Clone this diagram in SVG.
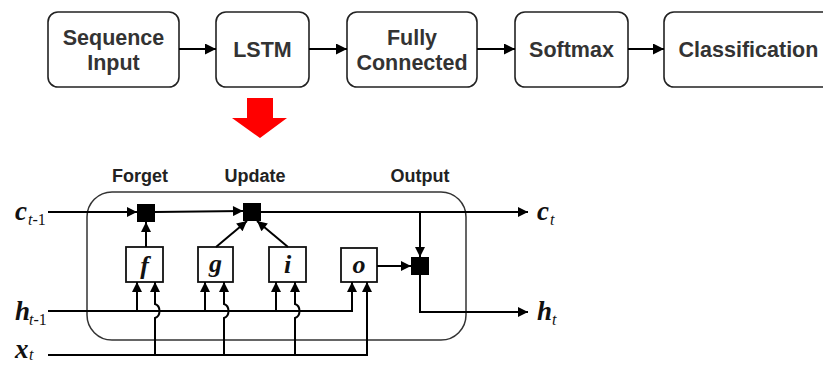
<svg xmlns="http://www.w3.org/2000/svg" width="823" height="365" viewBox="0 0 823 365">
<defs>
<marker id="ah" viewBox="0 0 10 10" refX="10" refY="5" markerWidth="12" markerHeight="11" markerUnits="userSpaceOnUse" orient="auto">
<path d="M0,0 L10,5 L0,10 Z" fill="#000"/>
</marker>
<marker id="ah2" viewBox="0 0 10 10" refX="10" refY="5" markerWidth="11" markerHeight="10" markerUnits="userSpaceOnUse" orient="auto">
<path d="M0,0 L10,5 L0,10 Z" fill="#000"/>
</marker>
</defs>
<style>
.box{fill:#fff;stroke:#222;stroke-width:1.6}
.btxt{font-family:"Liberation Sans",Arial,sans-serif;font-weight:bold;font-size:21.5px;fill:#333;text-anchor:middle}
.lbl{font-family:"Liberation Sans",Arial,sans-serif;font-weight:bold;font-size:18px;fill:#222;text-anchor:middle}
.gate{fill:#fff;stroke:#111;stroke-width:1.8}
.gt{font-family:"Liberation Serif","Times New Roman",serif;font-style:italic;font-weight:bold;font-size:26px;fill:#111;text-anchor:middle}
.sq{fill:#000}
.ln{fill:none;stroke:#000;stroke-width:2}
.var{font-family:"Liberation Serif","Times New Roman",serif;font-style:italic;font-weight:bold;font-size:27px;fill:#111}
.sub{font-family:"Liberation Serif","Times New Roman",serif;font-size:16px;fill:#111}
</style>
<rect width="823" height="365" fill="#fff"/>
<g id="seq"><rect class="box" x="48" y="12" width="131" height="75" rx="10"/><text class="btxt" x="113.5" y="45">Sequence</text><text class="btxt" x="113.5" y="70">Input</text></g>
<g id="lstm"><rect class="box" x="216" y="12" width="93" height="75" rx="10"/><text class="btxt" x="262.5" y="57">LSTM</text></g>
<g id="fc"><rect class="box" x="347" y="12" width="130" height="75" rx="10"/><text class="btxt" x="412" y="45">Fully</text><text class="btxt" x="412" y="70">Connected</text></g>
<g id="softmax"><rect class="box" x="515" y="12" width="113" height="75" rx="10"/><text class="btxt" x="571.5" y="57">Softmax</text></g>
<g id="class"><rect class="box" x="664" y="12" width="180" height="75" rx="10"/><text class="btxt" x="748.5" y="57">Classification</text></g>
<g id="redarrow"><path d="M247,98 H273 V118 H287 L260,138 L232,118 H247 Z" fill="#f00"/></g>
<g id="cell"><rect x="87" y="192" width="379" height="148" rx="25" fill="none" stroke="#333" stroke-width="1.5"/></g>
<g id="labels">
<text class="lbl" x="140" y="182">Forget</text>
<text class="lbl" x="255" y="182">Update</text>
<text class="lbl" x="420" y="182">Output</text>
</g>
<g id="gate-f"><rect class="gate" x="126" y="247" width="37" height="35"/><text class="gt" x="144.5" y="274">f</text></g>
<g id="gate-g"><rect class="gate" x="198" y="247" width="35" height="35"/><text class="gt" x="215.5" y="272">g</text></g>
<g id="gate-i"><rect class="gate" x="269" y="247" width="37" height="35"/><text class="gt" x="287.5" y="273">i</text></g>
<g id="gate-o"><rect class="gate" x="341" y="248" width="36" height="34"/><text class="gt" x="359" y="273">o</text></g>
<g id="mul1"><rect class="sq" x="137" y="204" width="18" height="18"/></g>
<g id="mul2"><rect class="sq" x="243" y="203" width="18" height="18"/></g>
<g id="mul3"><rect class="sq" x="411" y="257" width="18" height="18"/></g>
<g id="vars">
<text class="var" x="15" y="220">c</text><text class="sub" x="28" y="225"><tspan font-style="italic">t</tspan>-1</text>
<text class="var" x="15" y="320">h</text><text class="sub" x="29" y="325"><tspan font-style="italic">t</tspan>-1</text>
<text class="var" x="15" y="358">x</text><text class="sub" x="29" y="360" font-style="italic" font-size="14">t</text>
<text class="var" x="537" y="220">c</text><text class="sub" x="550" y="225" font-style="italic">t</text>
<text class="var" x="537" y="320">h</text><text class="sub" x="552" y="325" font-style="italic">t</text>
</g>
<g id="connectors">
<path class="ln" d="M179,49 H216" marker-end="url(#ah)"/>
<path class="ln" d="M309,49 H347" marker-end="url(#ah)"/>
<path class="ln" d="M477,49 H515" marker-end="url(#ah)"/>
<path class="ln" d="M628,49 H664" marker-end="url(#ah)"/>
<path class="ln" d="M48,212 H137" marker-end="url(#ah2)"/>
<path class="ln" d="M155,212 L243,211" marker-end="url(#ah2)"/>
<path class="ln" d="M261,212 H528" marker-end="url(#ah2)"/>
<path class="ln" d="M420,212 V257" marker-end="url(#ah2)"/>
<path class="ln" d="M146,247 V222" marker-end="url(#ah2)"/>
<path class="ln" d="M216,247 L247,221" marker-end="url(#ah2)"/>
<path class="ln" d="M288,247 L257,221" marker-end="url(#ah2)"/>
<path class="ln" d="M377,266 H411" marker-end="url(#ah2)"/>
<path class="ln" d="M420,275 V312 H528" marker-end="url(#ah2)"/>
<path class="ln" d="M48,311 H352 V282" marker-end="url(#ah2)"/>
<path class="ln" d="M137,311 V282" marker-end="url(#ah2)"/>
<path class="ln" d="M205,311 V282" marker-end="url(#ah2)"/>
<path class="ln" d="M276,311 V282" marker-end="url(#ah2)"/>
<path class="ln" d="M48,355 H367 V282" marker-end="url(#ah2)"/>
<path class="ln" d="M155,355 V318 C161,316 161,306 155,304 V282" marker-end="url(#ah2)"/>
<path class="ln" d="M224,355 V318 C230,316 230,306 224,304 V282" marker-end="url(#ah2)"/>
<path class="ln" d="M295,355 V318 C301,316 301,306 295,304 V282" marker-end="url(#ah2)"/>
</g>
</svg>
